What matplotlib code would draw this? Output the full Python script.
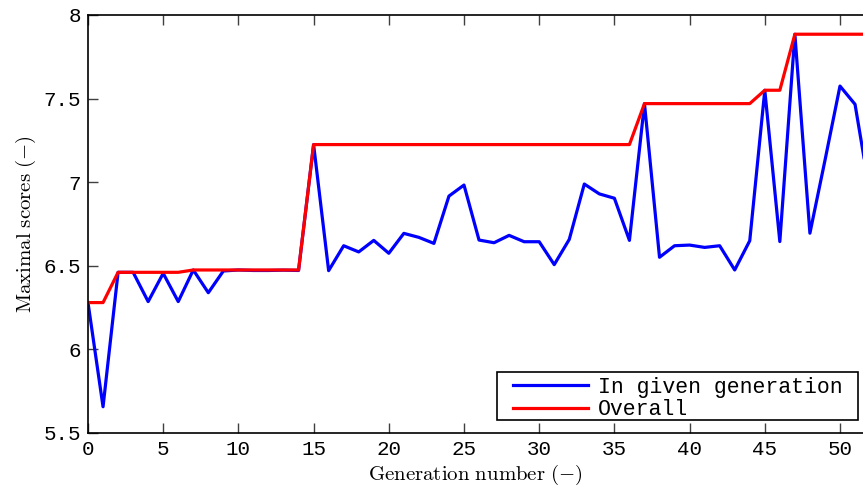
import numpy as np
import matplotlib
matplotlib.use("Agg")
import matplotlib.pyplot as plt
from matplotlib.patches import Rectangle

plt.rcParams["mathtext.fontset"] = "cm"

generations = list(range(53))
in_generation = [6.28, 5.657, 6.461, 6.461, 6.286, 6.455, 6.286, 6.475, 6.339, 6.469,
                 6.475, 6.472, 6.472, 6.474, 6.472, 7.225, 6.471, 6.62, 6.583, 6.652,
                 6.575, 6.694, 6.67, 6.634, 6.917, 6.983, 6.654, 6.638, 6.682, 6.644,
                 6.644, 6.507, 6.658, 6.989, 6.93, 6.904, 6.652, 7.47, 6.551, 6.62,
                 6.624, 6.61, 6.62, 6.475, 6.65, 7.55, 6.645, 7.885, 6.695, 7.13,
                 7.575, 7.466, 6.93]
overall = [6.28, 6.28, 6.461, 6.461, 6.461, 6.461, 6.461, 6.475, 6.475, 6.475,
           6.475, 6.475, 6.475, 6.475, 6.475, 7.225, 7.225, 7.225, 7.225, 7.225,
           7.225, 7.225, 7.225, 7.225, 7.225, 7.225, 7.225, 7.225, 7.225, 7.225,
           7.225, 7.225, 7.225, 7.225, 7.225, 7.225, 7.225, 7.47, 7.47, 7.47,
           7.47, 7.47, 7.47, 7.47, 7.47, 7.55, 7.55, 7.885, 7.885, 7.885,
           7.885, 7.885, 7.885]

fig = plt.figure(figsize=(8.63, 4.88), dpi=100)
ax = fig.add_axes([88 / 863, 55 / 488, 775 / 863, 418 / 488])

ax.plot(generations, in_generation, color=(0, 0, 1), lw=2.3, label="In given generation")
ax.plot(generations, overall, color=(1, 0, 0), lw=2.3, label="Overall")

ax.set_xlim(0, 51.53)
ax.set_ylim(5.5, 8)
ax.set_xticks(range(0, 51, 5))
ax.set_yticks([5.5, 6, 6.5, 7, 7.5, 8])
ax.set_yticklabels(["5.5", "6", "6.5", "7", "7.5", "8"])

mono = "Liberation Mono"
for lab in ax.get_xticklabels() + ax.get_yticklabels():
    lab.set_family(mono)
    lab.set_fontsize(15)
ax.tick_params(direction="in", length=7, width=1, color="#404040", top=True, right=False, pad=5)

ax.spines["right"].set_visible(False)
for s in ["left", "top", "bottom"]:
    ax.spines[s].set_linewidth(1.2)

ax.set_xlabel(r"$\mathrm{Generation\ number\ (-)}$", fontsize=15, labelpad=3)
ax.set_ylabel(r"$\mathrm{Maximal\ scores\ (-)}$", fontsize=15, labelpad=4)

# legend box drawn by hand so the padding matches the original
ax.add_patch(Rectangle((0.528, 0.031), 0.4655, 0.115, transform=ax.transAxes,
                       facecolor="white", edgecolor="black", lw=1.2, zorder=4))
leg = ax.legend(loc="upper left", bbox_to_anchor=(0.5484, 0.134), prop={"family": mono, "size": 15.5},
                frameon=False, handlelength=3.5, handletextpad=0.45, borderpad=0,
                labelspacing=0.05, borderaxespad=0)
leg.set_zorder(5)

fig.savefig("out.png", dpi=100)
